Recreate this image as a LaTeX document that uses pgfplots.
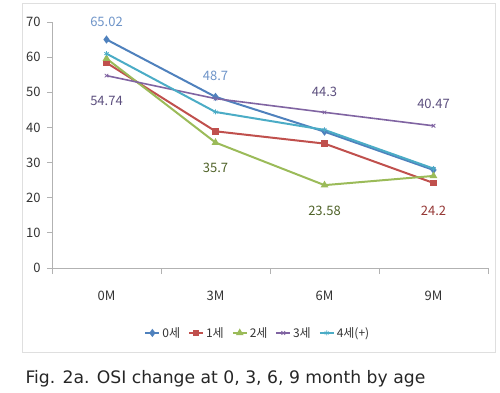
\documentclass[border=0pt]{standalone}
\usepackage{pgfplots}
\pgfplotsset{compat=1.18}
\usepackage{fontspec}
\setmainfont{Noto Sans CJK KR}
\newfontfamily\capfont{DejaVu Sans}
\definecolor{cA}{HTML}{4F81BD}
\definecolor{cB}{HTML}{C0504D}
\definecolor{cC}{HTML}{9BBB59}
\definecolor{cD}{HTML}{8064A2}
\definecolor{cE}{HTML}{4BACC6}
\definecolor{lA}{HTML}{6E94C8}
\definecolor{lB}{HTML}{953735}
\definecolor{lC}{HTML}{4F6228}
\definecolor{lD}{HTML}{5C4F7E}
\definecolor{txt}{HTML}{333333}
\begin{document}
\begin{tikzpicture}[x=1pt,y=1pt]
\path[use as bounding box] (0,0) rectangle (500,-392);
\draw[gray!25, line width=0.8pt] (22,-3) rectangle (495,-352);
\begin{axis}[
  at={(52pt,-268pt)}, anchor=south west,
  scale only axis, width=436pt, height=246pt,
  xmin=-0.5, xmax=3.5, ymin=0, ymax=70,
  axis x line*=bottom, axis y line*=left,
  axis line style={gray!60, line width=0.8pt},
  xtick={0,1,2,3}, xticklabels={0M,3M,6M,9M},
  major x tick style={draw=none},
  minor xtick={-0.5,0.5,1.5,2.5,3.5},
  minor x tick style={gray!60, line width=0.8pt},
  minor tick length=6pt,
  ytick={0,10,...,70},
  major y tick style={gray!60, line width=0.8pt},
  major tick length=5pt,
  tick align=outside,
  /pgf/number format/assume math mode=true,
  tick label style={font=\fontsize{13}{15}\selectfont, text=txt},
  xticklabel style={yshift=-14pt},
  yticklabel style={xshift=-3pt},
  legend style={at={(0.472,-0.264)}, anchor=center, draw=none, fill=none,
    legend columns=5, font=\fontsize{12}{14}\selectfont, text=txt,
    /tikz/every even column/.append style={column sep=6pt}},
  legend image code/.code={\draw[mark repeat=2,mark phase=2] plot coordinates {(0pt,0pt) (7pt,0pt) (14pt,0pt)};},
  every axis plot/.append style={line width=2pt, mark size=2.5pt},
  clip=false,
]
\addplot[cA, mark=diamond*] coordinates {(0,65.02) (1,48.7) (2,38.8) (3,27.9)};
\addlegendentry{0세}
\addplot[cB, mark=square*, mark size=2.2pt] coordinates {(0,58.4) (1,38.9) (2,35.4) (3,24.2)};
\addlegendentry{1세}
\addplot[cC, mark=triangle*] coordinates {(0,59.6) (1,35.7) (2,23.58) (3,26.2)};
\addlegendentry{2세}
\addplot[cD, mark=x, line width=1.6pt, mark options={line width=0.8pt}] coordinates {(0,54.74) (1,48.2) (2,44.3) (3,40.47)};
\addlegendentry{3세}
\addplot[cE, mark=asterisk, mark options={line width=0.8pt}] coordinates {(0,61.0) (1,44.4) (2,39.3) (3,28.3)};
\addlegendentry{4세(+)}
\node[lA, font=\fontsize{13}{15}\selectfont] at (axis cs:0,70.1) {65.02};
\node[lD, font=\fontsize{13}{15}\selectfont] at (axis cs:0,47.4) {54.74};
\node[lA, font=\fontsize{13}{15}\selectfont] at (axis cs:1,54.7) {48.7};
\node[lC, font=\fontsize{13}{15}\selectfont] at (axis cs:1,28.5) {35.7};
\node[lD, font=\fontsize{13}{15}\selectfont] at (axis cs:2,50.0) {44.3};
\node[lC, font=\fontsize{13}{15}\selectfont] at (axis cs:2,16.2) {23.58};
\node[lD, font=\fontsize{13}{15}\selectfont] at (axis cs:3,46.6) {40.47};
\node[lB, font=\fontsize{13}{15}\selectfont] at (axis cs:3,16.2) {24.2};
\end{axis}
\node[anchor=base west, font=\capfont\fontsize{17.2}{19}\selectfont, text=black!85] at (22,-383) {Fig. 2a. OSI change at 0, 3, 6, 9 month by age};
\end{tikzpicture}
\end{document}
